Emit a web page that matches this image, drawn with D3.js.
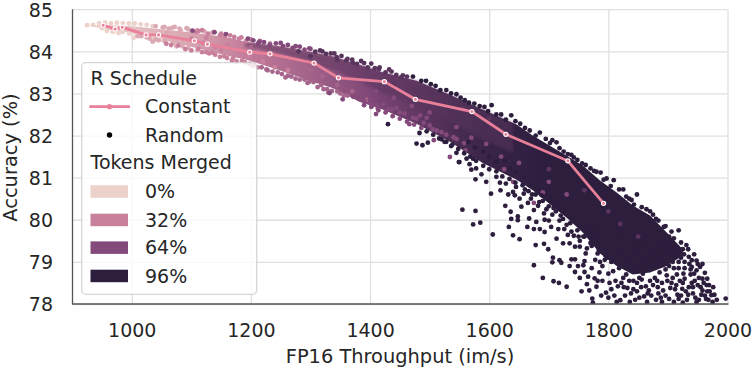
<!DOCTYPE html>
<html>
<head>
<meta charset="utf-8">
<script src="https://cdn.jsdelivr.net/npm/d3@7"></script>
<style>
html, body { margin: 0; padding: 0; background: #fff; }
svg { display: block; }
text { font-family: "DejaVu Sans", sans-serif; fill: #262626; }
</style>
</head>
<body>
<div class="container"></div>
<script>
var xTicks = [1000, 1200, 1400, 1600, 1800, 2000];
var yTicks = [78, 79, 80, 81, 82, 83, 84, 85];
var legendTokens = [0, 32, 64, 96];

// R Schedule = Constant
var constantThroughput = [952, 972, 984, 1024, 1045, 1105, 1127, 1198, 1232, 1306, 1347, 1424, 1476, 1571, 1628, 1732, 1792];
var constantAccuracy = [84.62, 84.53, 84.57, 84.39, 84.39, 84.25, 84.17, 83.98, 83.94, 83.72, 83.37, 83.28, 82.86, 82.57, 82.03, 81.40, 80.39];

// the cloud has thousands of overlapping dots, too many to read one by one:
// its solid middle is an envelope, the readable dots go on top
var coreThroughput = [930, 960, 996, 1046, 1105, 1164, 1193, 1248, 1303, 1337, 1382, 1421, 1478, 1534, 1589, 1646, 1673, 1730, 1757, 1786, 1814, 1841, 1870, 1898, 1925];
var coreHigh = [84.62, 84.62, 84.6, 84.53, 84.44, 84.32, 84.22, 84.12, 83.98, 83.88, 83.68, 83.5, 83.3, 82.97, 82.62, 82.26, 82.0, 81.52, 81.29, 80.93, 80.65, 80.34, 80.1, 79.7, 79.3];
var coreLow = [84.6, 84.52, 84.44, 84.29, 84.09, 83.88, 83.8, 83.55, 83.28, 83.13, 82.8, 82.62, 82.28, 81.85, 81.35, 80.95, 80.7, 80.05, 79.7, 79.2, 78.9, 78.7, 78.75, 78.9, 79.15];
var coreStopThroughput = [920, 1000, 1100, 1200, 1300, 1400, 1500, 1600, 1700];
var coreStopTokens = [0, 6, 18, 36, 50, 66, 80, 92, 96];

// high token counts sit on the upper side of the middle of the curve
var upperThroughput = [1190, 1248, 1303, 1337, 1382, 1421, 1478, 1534, 1589, 1640];
var upperHigh = [84.22, 84.12, 83.98, 83.88, 83.68, 83.5, 83.3, 82.97, 82.62, 82.3];
var upperLow = [84.1, 83.95, 83.72, 83.55, 83.3, 83.0, 82.7, 82.35, 81.9, 81.6];

var tokens0 = [[925,84.62],[935,84.63],[945,84.66],[955,84.68],[965,84.66],[975,84.68],[985,84.67],[995,84.66],[1005,84.66],[1015,84.64],[1025,84.63],[1035,84.6],[950,84.55],[960,84.53],[972,84.5],[985,84.46],[996,84.42],[1008,84.4],[1022,84.38],[1035,84.33],[1048,84.28],[1003,84.32],[958,84.48],[968,84.46],[978,84.43]];
var tokens16 = [[1040,84.6],[1055,84.58],[1068,84.56],[1080,84.54],[1095,84.52],[1110,84.5],[1122,84.47],[1135,84.44],[1010,84.36],[1025,84.33],[1040,84.28],[1055,84.24],[1070,84.2],[1085,84.12],[1095,84.08],[1110,84.03],[1035,84.23],[1075,84.12],[1060,84.45],[1085,84.38],[1045,84.37],
  [1052,84.57],[1062,84.54],[1072,84.58],[1082,84.5],[1092,84.55],[1100,84.48],[1016,84.36],[1030,84.3],[1045,84.26]];
var tokens32 = [[1150,84.42],[1165,84.38],[1180,84.3],[1200,84.28],[1112,84.48],[1125,83.98],[1140,83.92],[1155,83.88],[1170,83.83],[1185,83.78],[1198,83.7],[1168,83.78],[1212,83.62],[1130,83.95],[1100,84.3],[1120,84.2],[1140,84.1],[1160,84.15],[1180,84.0],[1150,84.02],[1125,84.32],[1195,83.88],[1220,83.76],[1240,83.62],[1262,83.55],
  [1108,84.46],[1118,84.5],[1128,84.42],[1138,84.46],[1148,84.38],[1156,84.36],[1172,84.34],[1184,84.33],[1192,84.25],[1058,84.18],[1066,84.15],[1078,84.14],[1090,84.05],[1100,84.02],[1112,84.06],[1118,83.98],[1135,83.97],[1148,83.87],[1160,83.84],[1176,83.76],[1190,83.74],[1204,83.66]];
var tokens48 = [[1215,84.25],[1232,84.18],[1200,84.1],[1228,83.55],[1245,83.5],[1262,83.42],[1275,83.35],[1290,83.33],[1305,83.27],[1312,83.15],[1328,83.1],[1345,83.05],[1356,82.95],[1330,83.02],[1295,83.25],[1260,83.85],[1280,83.7],[1300,83.55],[1320,83.4],[1235,83.95],[1345,83.2],[1370,83.05],[1395,82.85],
  [1218,83.62],[1226,83.57],[1236,83.52],[1252,83.46],[1258,83.38],[1268,83.4],[1282,83.33],[1298,83.28],[1318,83.2],[1322,83.1],[1336,83.06],[1350,83.0],[1362,82.95]];
var tokens64 = [[1102,84.49],[1139,84.45],[1158,84.41],[1195,84.3],[1214,84.22],[1250,84.2],[1275,84.12],[1300,84.06],[1332,83.01],[1354,82.86],[1382,82.87],[1405,82.72],[1430,82.63],[1410,82.51],[1413,82.64],[1400,82.78],[1450,82.55],[1466,82.27],[1472,82.42],[1490,82.3],[1507,81.89],[1505,82.15],[1520,82.08],[1534,81.49],[1545,81.92],[1495,82.42],[1345,83.5],[1385,83.25],[1410,83.05],[1440,82.9],[1470,82.7],[1500,82.55],[1545,82.2],[1570,81.95],[1595,81.8],[1620,81.5],[1650,81.35],[1700,80.9],[1730,80.6],[1640,80.9],[1675,80.4],
  [1204,84.26],[1212,84.18],[1222,84.22],[1232,84.14],[1242,84.19],[1254,84.12],[1262,84.15],[1270,84.08],[1282,84.11],[1290,84.04],[1298,84.07],[1372,82.92],[1390,82.82],[1400,82.85],[1412,82.72],[1422,82.74],[1436,82.62],[1444,82.66],[1458,82.52],[1478,82.4],[1484,82.48],[1500,82.24],[1512,82.12],[1528,82.02],[1540,81.96],[1558,81.82],
  [1390,82.72],[1402,82.68],[1414,82.6],[1426,82.55],[1438,82.46],[1450,82.4],[1462,82.33],[1474,82.26],[1486,82.18],[1560,81.65],[1625,81.2],[1690,80.65]];
var tokens80 = [[1320,84.0],[1340,83.95],[1362,83.82],[1385,83.77],[1402,83.71],[1371,83.73],[1415,83.58],[1432,83.57],[1455,83.43],[1345,83.8],[1300,83.88],[1280,84.0],[1440,83.2],[1480,83.05],[1515,82.9],[1555,82.65],[1600,82.4],[1460,83.0],[1700,81.2],[1760,80.7],[1800,80.2],[1820,79.9],[1850,79.6],
  [1308,83.99],[1316,84.02],[1326,83.94],[1334,83.95],[1344,83.86],[1352,83.89],[1360,83.78],[1370,83.8],[1378,83.7],[1390,83.72],[1396,83.62],[1408,83.6],[1416,83.62],[1426,83.5],[1436,83.52],[1444,83.44],[1452,83.38],[1462,83.4]];
var tokens96 = [
  // top edge
  [1472,83.4],[1494,83.3],[1510,83.18],[1528,83.08],[1545,82.98],[1559,82.84],[1575,82.76],[1592,82.68],[1604,82.72],[1620,82.5],[1637,82.48],[1652,82.28],[1668,82.12],[1685,82.07],[1695,81.92],[1706,81.89],[1713,81.84],[1725,81.62],[1738,81.54],[1748,81.42],[1756,81.34],[1770,81.22],[1780,81.14],[1787,81.12],[1797,80.98],[1809,80.94],[1818,80.72],[1825,80.72],[1835,80.5],[1839,80.47],[1848,80.6],[1856,80.3],[1864,80.25],[1875,80.12],[1884,79.98],[1893,79.83],[1902,79.6],[1910,79.56],[1918,79.75],[1915,79.32],[1927,79.18],[1934,79.3],[1940,79.04],[1948,79.03],[1954,78.88],[1962,78.74],[1969,78.45],[1973,78.21],[1997,78.13],
  [1486,83.3],[1502,83.22],[1518,83.08],[1536,83.0],[1552,82.9],[1566,82.78],[1584,82.7],[1598,82.58],[1612,82.5],[1628,82.38],[1644,82.34],[1660,82.18],[1678,82.0],[1702,81.82],[1718,81.7],[1732,81.56],[1742,81.48],[1762,81.3],[1776,81.16],[1792,80.95],[1804,80.8],[1830,80.55],[1843,80.36],[1870,80.2],[1880,80.02],[1896,79.85],[1906,79.72],[1922,79.46],[1931,79.4],[1944,79.18],[1958,78.95],[1966,78.6],[1976,78.4],
  // lower edge of the solid part
  [1495,82.1],[1506,82.02],[1516,81.93],[1528,81.85],[1538,81.78],[1548,81.68],[1558,81.58],[1568,81.5],[1578,81.4],[1590,81.28],[1600,81.2],[1612,81.15],[1622,81.03],[1634,80.97],[1644,80.88],[1656,80.82],[1666,80.68],[1678,80.6],[1690,80.45],[1700,80.32],[1712,80.2],[1724,80.02],[1736,79.92],[1748,79.75],[1760,79.6],[1772,79.38],[1782,79.2],[1794,79.05],
  // loose dots below it
  [1430,82.27],[1478,81.81],[1488,81.77],[1497,81.83],[1483,82.06],[1520,81.91],[1525,81.85],[1536,81.75],[1549,81.37],[1545,81.59],[1550,81.37],[1562,81.45],[1567,81.32],[1570,81.19],[1573,81.45],[1578,81.22],[1587,81.08],[1577,80.96],[1595,80.9],[1603,80.62],[1618,80.88],[1619,80.7],[1632,80.6],[1640,80.66],[1643,80.58],[1651,80.5],[1627,80.33],[1636,80.19],[1654,80.31],[1637,80.02],[1648,80.08],[1648,79.99],[1667,80.03],[1675,80.23],[1679,79.95],[1693,80.0],[1633,79.83],[1664,79.83],[1675,79.78],[1685,79.78],[1704,79.83],[1693,79.71],[1713,79.55],[1640,79.63],[1651,79.54],[1678,79.4],[1692,79.43],[1699,79.3],[1555,80.24],[1577,80.21],[1573,79.89],[1585,79.93],[1606,79.65],
  [1565,81.84],[1576,81.72],[1590,81.62],[1600,81.5],[1612,81.38],[1626,81.4],[1635,81.22],[1645,81.12],[1658,81.0],[1668,80.82],[1680,80.72],[1688,80.58],[1698,80.5],[1710,80.38],[1722,80.22],[1736,80.1],[1746,79.96],[1756,79.8],[1768,79.62],[1776,79.5],[1784,79.28],[1798,79.1],
  [1660,80.72],[1672,80.6],[1665,80.4],[1684,80.42],[1696,80.25],[1706,80.12],[1718,79.98],[1700,79.98],[1726,79.78],[1738,79.72],[1716,79.78],[1758,79.6],
  [1612,81.02],[1628,80.86],[1645,80.78],[1658,80.62],[1670,80.5],[1682,80.33],[1692,80.15],[1708,80.28],[1720,80.1],[1730,79.88],[1742,79.62],[1752,79.5],[1764,79.32],[1775,79.6],[1786,79.0],[1760,79.02],[1772,78.85],[1782,78.55],[1788,78.2],[1752,78.62],[1735,78.9],[1755,78.3],[1768,78.32],
  [1675,78.92],[1690,78.62],[1708,78.54],[1717,78.5],[1730,78.41],[1707,79.1],[1706,78.99],[1718,79.04],[1721,78.98],[1738,79.06],[1744,79.06],[1724,79.44],[1732,79.64],[1735,79.44],[1744,79.36],[1752,79.36],[1744,78.76],[1749,78.9],[1758,78.92],[1760,78.76],[1766,78.65],[1764,78.47],[1777,78.61],[1780,78.41],[1796,78.27],[1773,78.13],[1774,78.03],[1814,78.05],[1820,78.09],[1836,78.05],
  // loose tail at the bottom right
  [1762,79.2],[1770,79.45],[1778,79.05],[1785,79.3],[1790,78.9],[1795,79.15],[1800,78.72],[1805,79.0],[1810,79.35],[1812,78.55],[1818,78.85],[1822,79.2],[1826,78.4],[1830,78.7],[1834,79.05],[1838,78.25],[1842,78.55],[1845,78.9],[1850,79.3],[1852,78.15],[1855,78.4],[1858,78.72],[1862,79.05],[1866,78.25],[1870,78.55],[1873,78.95],[1876,79.2],[1880,78.1],[1883,78.4],[1886,78.75],[1890,79.05],[1893,79.4],[1896,78.2],[1899,78.55],[1902,78.9],[1906,79.15],[1910,78.05],[1912,78.35],[1915,78.7],[1918,79.0],[1922,78.2],[1925,78.5],[1928,78.85],[1932,78.1],[1935,78.4],[1938,78.7],[1942,78.25],[1945,78.55],[1948,78.8],[1952,78.1],[1955,78.4],[1958,78.6],[1962,78.2],[1965,78.45],[1968,78.1],[1800,78.15],[1845,78.1],[1865,78.05],[1890,78.05],[1925,78.03],[1948,78.05],[1975,78.05],[1982,78.1],
  [1780,79.7],[1800,79.55],[1820,79.6],[1845,79.35],[1860,79.5],[1880,79.5],[1900,79.55],[1870,79.85],[1905,79.35],[1922,79.1],[1790,78.55],[1805,78.35],[1750,79.6],[1770,79.75],
  [1785,78.75],[1808,78.78],[1816,78.42],[1825,78.62],[1832,78.38],[1840,78.78],[1848,78.3],[1856,78.58],[1863,78.42],[1872,78.2],[1878,78.62],[1884,78.25],[1890,78.5],[1896,78.82],[1904,78.38],[1908,78.62],[1916,78.22],[1920,78.55],[1926,78.72],[1930,78.3],[1936,78.95],[1940,78.5],[1944,78.72],[1950,78.45],[1956,78.22],[1960,78.5],[1966,78.3],[1910,78.85],[1885,78.95],[1858,78.88],[1912,79.2],[1935,79.12],[1895,79.15],[1868,78.32],[1848,78.5],[1828,78.2],
  [1802,78.5],[1810,78.2],[1822,78.5],[1835,78.55],[1842,78.35],[1852,78.62],[1860,78.18],[1875,78.45],[1882,78.55],[1888,78.15],[1892,78.32],[1898,78.68],[1902,78.12],[1906,78.5],[1914,78.45],[1918,78.12],[1924,78.36],[1928,78.6],[1934,78.22],[1938,78.82],[1942,78.4],[1946,78.15],[1952,78.62],[1958,78.32],[1964,78.12],[1970,78.3],[1978,78.22],[1908,79.0],[1918,78.85],[1928,79.0],[1940,78.88],[1950,78.95],[1900,79.28],[1885,79.3],[1925,79.3]
];

var WIDTH = 754;
var HEIGHT = 370;
var LEFT = 72.5;
var RIGHT = 727.5;
var TOP = 9.2;
var BOTTOM = 304;

var xScale = d3.scaleLinear().domain([900, 2000]).range([LEFT - 0.3, RIGHT]);
var yScale = d3.scaleLinear().domain([78, 85]).range([BOTTOM, TOP]);
var tokenColor = d3.scaleLinear().domain(legendTokens).range(['#edd1cb', '#c8809c', '#844a7b', '#2d1e3e']);

var svg = d3.select('.container').append('svg').attr('width', WIDTH).attr('height', HEIGHT);
var defs = svg.append('defs');
defs.append('clipPath').attr('id', 'plot').append('rect')
    .attr('x', LEFT).attr('y', 0).attr('width', RIGHT - LEFT + 3).attr('height', BOTTOM);
defs.append('filter').attr('id', 'soft').append('feGaussianBlur').attr('stdDeviation', 1.6);

var gradient = defs.append('linearGradient').attr('id', 'coreFill')
    .attr('gradientUnits', 'userSpaceOnUse')
    .attr('x1', xScale(900)).attr('x2', xScale(2000)).attr('y1', 0).attr('y2', 0);
coreStopThroughput.forEach(function (t, i) {
    gradient.append('stop')
        .attr('offset', (t - 900) / 1100)
        .attr('stop-color', tokenColor(coreStopTokens[i]));
});

// grid
var xAxis = svg.append('g').attr('transform', 'translate(0,' + BOTTOM + ')')
    .call(d3.axisBottom(xScale).tickValues(xTicks).tickSize(TOP - BOTTOM).tickFormat(d3.format('d')));
var yAxis = svg.append('g').attr('transform', 'translate(' + LEFT + ',0)')
    .call(d3.axisLeft(yScale).tickValues(yTicks).tickSize(LEFT - RIGHT).tickFormat(d3.format('d')));
[xAxis, yAxis].forEach(function (axis) {
    axis.select('.domain').remove();
    axis.selectAll('line').attr('stroke', '#e0e0e0').attr('stroke-width', 1.3);
    axis.selectAll('text').style('font-size', '19px').style('fill', '#262626')
        .style('font-family', '"DejaVu Sans", sans-serif');
});
xAxis.selectAll('text').attr('y', 20).attr('dy', '0.71em');
yAxis.selectAll('text').attr('x', -19.5).attr('dy', '0.36em');

var marks = svg.append('g').attr('clip-path', 'url(#plot)');

var bandLine = function (tp, high, low) {
    return d3.area()
        .x(function (d, i) { return xScale(tp[i]); })
        .y0(function (d, i) { return yScale(low[i]); })
        .y1(function (d, i) { return yScale(high[i]); })(tp);
};

marks.append('path').attr('d', bandLine(coreThroughput, coreHigh, coreLow))
    .attr('fill', 'url(#coreFill)');
marks.append('path').attr('d', bandLine(upperThroughput, upperHigh, upperLow))
    .attr('fill', tokenColor(80)).attr('opacity', 0.55).attr('filter', 'url(#soft)');

var addDots = function (points, tokens) {
    marks.append('g').selectAll('circle')
        .data(points)
        .enter()
        .append('circle')
        .attr('cx', function (d) { return xScale(d[0]); })
        .attr('cy', function (d) { return yScale(d[1]); })
        .attr('r', 2.4)
        .attr('fill', tokenColor(tokens));
};
addDots(tokens0, 0);
addDots(tokens16, 16);
addDots(tokens32, 32);
addDots(tokens48, 48);
addDots(tokens64, 64);
addDots(tokens80, 80);
addDots(tokens96, 96);

// the constant schedule run
var PINK = '#e9809a';
var constantPoints = constantThroughput.map(function (t, i) { return [t, constantAccuracy[i]]; });
marks.append('path').datum(constantPoints)
    .attr('d', d3.line().x(function (d) { return xScale(d[0]); }).y(function (d) { return yScale(d[1]); }))
    .attr('fill', 'none').attr('stroke', PINK).attr('stroke-width', 2.8);
marks.append('g').selectAll('circle')
    .data(constantPoints)
    .enter()
    .append('circle')
    .attr('cx', function (d) { return xScale(d[0]); })
    .attr('cy', function (d) { return yScale(d[1]); })
    .attr('r', 2.1)
    .attr('fill', PINK).attr('stroke', '#fff').attr('stroke-width', 1.1);

// spines
svg.append('line').attr('x1', LEFT).attr('x2', LEFT).attr('y1', TOP).attr('y2', BOTTOM + 0.6)
    .attr('stroke', '#555').attr('stroke-width', 1.3);
svg.append('line').attr('x1', LEFT).attr('x2', RIGHT + 1).attr('y1', BOTTOM).attr('y2', BOTTOM)
    .attr('stroke', '#555').attr('stroke-width', 1.3);

// axis titles
svg.append('text').attr('x', 400).attr('y', 363).attr('text-anchor', 'middle')
    .style('font-size', '19.4px').text('FP16 Throughput (im/s)');
svg.append('text').attr('transform', 'translate(17,157.5) rotate(-90)').attr('text-anchor', 'middle')
    .style('font-size', '19.4px').text('Accuracy (%)');

// legend
var legend = svg.append('g');
legend.append('rect').attr('x', 81.7).attr('y', 62.7).attr('width', 175).attr('height', 231.6).attr('rx', 4)
    .attr('fill', '#fff').attr('fill-opacity', 0.8).attr('stroke', '#ccc').attr('stroke-opacity', 0.8).attr('stroke-width', 1.3);
var legendText = function (x, y, label) {
    legend.append('text').attr('x', x).attr('y', y).style('font-size', '19px').text(label);
};
legendText(90.5, 85, 'R Schedule');
legend.append('line').attr('x1', 89.3).attr('x2', 130).attr('y1', 106.7).attr('y2', 106.7)
    .attr('stroke', PINK).attr('stroke-width', 2.8);
legend.append('circle').attr('cx', 109.5).attr('cy', 106.7).attr('r', 2.6).attr('fill', PINK);
legendText(145, 113.3, 'Constant');
legend.append('circle').attr('cx', 109.5).attr('cy', 135).attr('r', 2.7).attr('fill', '#000');
legendText(145, 141.7, 'Random');
legendText(90.5, 169.3, 'Tokens Merged');
legendTokens.forEach(function (t, i) {
    var base = [198.3, 226.7, 254.4, 282.7][i];
    legend.append('rect').attr('x', 90.5).attr('y', base - 13).attr('width', 37.5).attr('height', 12.5)
        .attr('fill', tokenColor(t));
    legendText(145, base, t + '%');
});
</script>
</body>
</html>
